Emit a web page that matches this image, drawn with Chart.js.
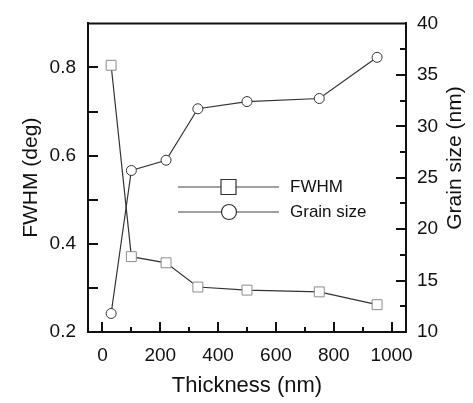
<!DOCTYPE html>
<html>
<head>
<meta charset="utf-8">
<script src="https://cdn.jsdelivr.net/npm/chart.js@4"></script>
<style>
body { margin: 0; background: #fff; }
</style>
</head>
<body>
<canvas id="myChart" width="473" height="403"></canvas>
<script>
let thickness = [30, 100, 220, 330, 500, 750, 950];
let fwhmValues = [0.805, 0.371, 0.357, 0.302, 0.295, 0.291, 0.262];
let grainValues = [11.8, 25.7, 26.7, 31.7, 32.4, 32.7, 36.7];

let xTicks = [0, 200, 400, 600, 800, 1000];
let fwhmTicks = [0.2, 0.4, 0.6, 0.8];
let grainTicks = [10, 15, 20, 25, 30, 35, 40];

let fontFamily = '"Liberation Sans", Arial, sans-serif';

// inward tick marks + top border + legend with line through marker
const frameAndTicks = {
    id: 'frameAndTicks',
    afterDraw(chart) {
        let ctx = chart.ctx;
        let area = chart.chartArea;
        let sx = chart.scales.x, sy = chart.scales.y, sy2 = chart.scales.y2;

        ctx.save();
        ctx.strokeStyle = '#111';
        ctx.lineWidth = 2;

        ctx.beginPath();
        ctx.moveTo(area.left - 1, area.top);
        ctx.lineTo(area.right + 1, area.top);
        ctx.stroke();

        // x ticks, major every 200, minor every 100
        for (let v = 0; v <= 1000; v += 100) {
            let px = Math.round(sx.getPixelForValue(v));
            let len = (v % 200 === 0) ? 10 : 5;
            ctx.beginPath();
            ctx.moveTo(px, area.bottom);
            ctx.lineTo(px, area.bottom - len);
            ctx.stroke();
        }
        // left ticks every 0.1
        for (let i = 3; i <= 8; i++) {
            let py = Math.round(sy.getPixelForValue(i / 10));
            ctx.beginPath();
            ctx.moveTo(area.left, py);
            ctx.lineTo(area.left + 10, py);
            ctx.stroke();
        }
        // right ticks every 2.5
        for (let v = 12.5; v < 40; v += 2.5) {
            let py = Math.round(sy2.getPixelForValue(v));
            let len = (v % 5 === 0) ? 10 : 6;
            ctx.beginPath();
            ctx.moveTo(area.right, py);
            ctx.lineTo(area.right - len, py);
            ctx.stroke();
        }

        // right axis title, reading upward like the left one
        ctx.save();
        ctx.translate(455, 158);
        ctx.rotate(-Math.PI / 2);
        ctx.font = '21px ' + fontFamily;
        ctx.fillStyle = '#111';
        ctx.textAlign = 'center';
        ctx.textBaseline = 'middle';
        ctx.fillText('Grain size (nm)', 0, 0);
        ctx.restore();

        // legend
        let rows = [
            { label: 'FWHM', style: 'rect', y: 187 },
            { label: 'Grain size', style: 'circle', y: 212 }
        ];
        ctx.font = '17px ' + fontFamily;
        ctx.textBaseline = 'middle';
        ctx.textAlign = 'left';
        rows.forEach(r => {
            ctx.strokeStyle = '#444';
            ctx.lineWidth = 1.2;
            ctx.beginPath();
            ctx.moveTo(178, r.y);
            ctx.lineTo(279, r.y);
            ctx.stroke();
            ctx.fillStyle = '#fff';
            ctx.strokeStyle = '#333';
            ctx.beginPath();
            if (r.style === 'rect') {
                ctx.rect(221, r.y - 7.5, 15, 15);
            } else {
                ctx.arc(229, r.y, 7.5, 0, Math.PI * 2);
            }
            ctx.fill();
            ctx.stroke();
            ctx.fillStyle = '#111';
            ctx.fillText(r.label, 290, r.y);
        });
        ctx.restore();
    }
};

let ctx1 = document.getElementById('myChart').getContext('2d');
let myChart = new Chart(ctx1, {
    type: 'line',
    data: {
        datasets: [{
            label: 'FWHM',
            data: thickness.map((t, i) => ({ x: t, y: fwhmValues[i] })),
            yAxisID: 'y',
            borderColor: '#333',
            borderWidth: 1.2,
            pointStyle: 'rect',
            pointRadius: 7,
            pointBorderColor: '#8c8c8c',
            pointBackgroundColor: '#fff',
            pointBorderWidth: 1,
            tension: 0
        }, {
            label: 'Grain size',
            data: thickness.map((t, i) => ({ x: t, y: grainValues[i] })),
            yAxisID: 'y2',
            borderColor: '#333',
            borderWidth: 1.2,
            pointStyle: 'circle',
            pointRadius: 5,
            pointBorderColor: '#333',
            pointBackgroundColor: '#fff',
            pointBorderWidth: 1,
            tension: 0
        }]
    },
    options: {
        responsive: false,
        animation: false,
        layout: { padding: { top: 15 } },
        plugins: {
            legend: { display: false },
            tooltip: { enabled: false }
        },
        scales: {
            x: {
                type: 'linear',
                min: -50,
                max: 1050,
                afterFit: s => { s.height = 71; },
                afterBuildTicks: s => { s.ticks = xTicks.map(v => ({ value: v })); },
                grid: { display: false, drawTicks: false },
                border: { display: true, color: '#111', width: 2 },
                ticks: {
                    padding: 12,
                    color: '#111',
                    font: { family: fontFamily, size: 19 },
                    maxRotation: 0,
                    callback: v => String(v)
                },
                title: {
                    display: true,
                    text: 'Thickness (nm)',
                    color: '#111',
                    font: { family: fontFamily, size: 22 },
                    padding: { top: 0, bottom: 4 }
                }
            },
            y: {
                type: 'linear',
                position: 'left',
                min: 0.2,
                max: 0.9,
                afterFit: s => { s.width = 88; },
                afterBuildTicks: s => { s.ticks = fwhmTicks.map(v => ({ value: v })); },
                grid: { display: false, drawTicks: false },
                border: { display: true, color: '#111', width: 2 },
                ticks: {
                    padding: 12,
                    color: '#111',
                    font: { family: fontFamily, size: 19 },
                    callback: v => v.toFixed(1)
                },
                title: {
                    display: true,
                    text: 'FWHM (deg)',
                    color: '#111',
                    font: { family: fontFamily, size: 21 },
                    padding: { top: 19, bottom: 0 }
                }
            },
            y2: {
                type: 'linear',
                position: 'right',
                min: 10,
                max: 40,
                afterFit: s => { s.width = 67; },
                afterBuildTicks: s => { s.ticks = grainTicks.map(v => ({ value: v })); },
                grid: { display: false, drawTicks: false },
                border: { display: true, color: '#111', width: 2 },
                ticks: {
                    padding: 11,
                    color: '#111',
                    font: { family: fontFamily, size: 19 },
                    callback: v => String(v)
                },
                title: { display: false }
            }
        }
    },
    plugins: [frameAndTicks]
});
</script>
</body>
</html>
